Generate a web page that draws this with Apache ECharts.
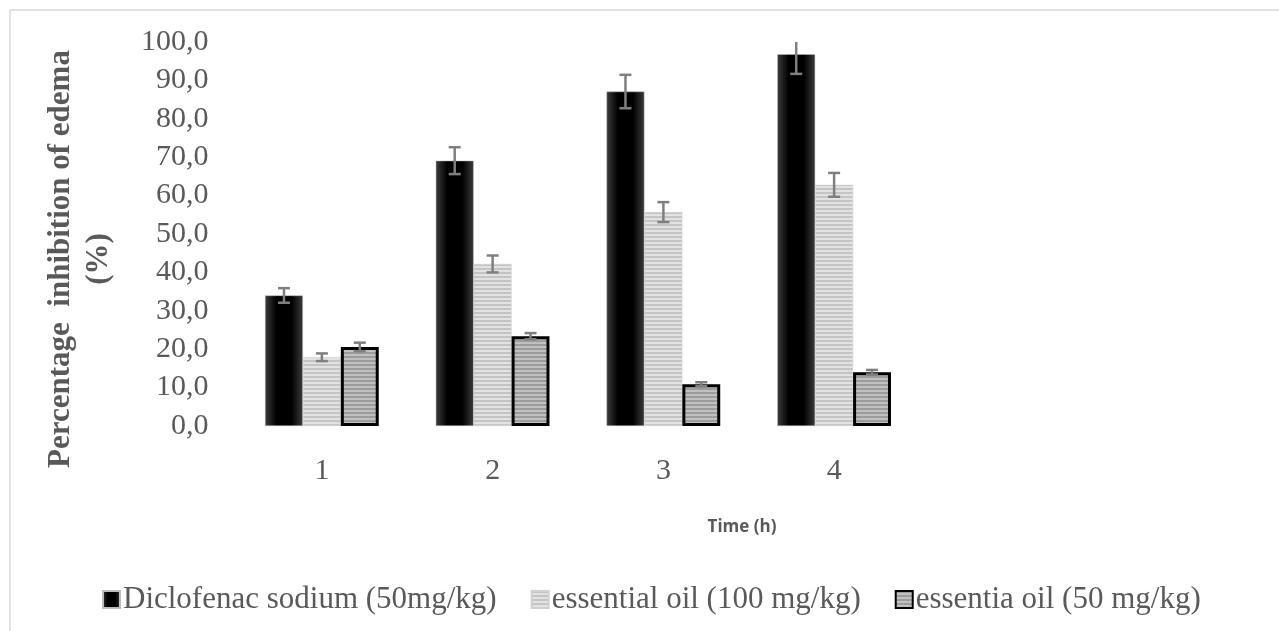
<!DOCTYPE html>
<html><head><meta charset="utf-8">
<script src="https://cdn.jsdelivr.net/npm/echarts@6/dist/echarts.min.js"></script>
<style>html,body{margin:0;padding:0;background:#fff}#c{width:1279px;height:631px}</style>
</head><body><div id="c"></div>
<script>
const categories = ['1', '2', '3', '4'];
const seriesNames = ['Diclofenac sodium (50mg/kg)', 'essential oil (100 mg/kg)', 'essentia oil (50 mg/kg)'];
const diclofenac = [34.0, 69.1, 87.1, 96.8];
const oil100 = [17.9, 42.2, 55.7, 62.8];
const oil50 = [20.6, 23.4, 10.9, 14.0];
const diclofenacErr = [1.9, 3.5, 4.35, 5.1];
const oil100Err = [1.0, 2.2, 2.6, 3.1];
const oil50Err = [1.1, 0.8, 0.5, 0.6];
const yMin = 0, yMax = 100, yStep = 10;
const yTitle = 'Percentage  inhibition of edema\n(%)';
const xTitle = 'Time (h)';

const SERIF = 'Liberation Serif';
const GAP = 0.334;

function stripes(c1, c2) {
  const cv = document.createElement('canvas');
  cv.width = 4; cv.height = 4;
  const ctx = cv.getContext('2d');
  ctx.fillStyle = c1; ctx.fillRect(0, 0, 4, 2);
  ctx.fillStyle = c2; ctx.fillRect(0, 2, 4, 2);
  return cv;
}
const blackFill = {type: 'linear', x: 0, y: 0, x2: 1, y2: 0, colorStops: [
  {offset: 0, color: '#3c3c3c'}, {offset: 0.3, color: '#000'}, {offset: 0.7, color: '#000'}, {offset: 1, color: '#3c3c3c'}]};
const lightFill = {image: stripes('#c4c4c4', '#e2e2e2'), repeat: 'repeat'};
const midFill = {image: stripes('#9c9c9c', '#c0c0c0'), repeat: 'repeat'};

function errData(vals, errs) {
  return vals.map((v, i) => [i, v - errs[i], v + errs[i]]);
}
function errRender(sIdx) {
  return function (params, api) {
    const cat = api.value(0), lo = api.value(1), hi = api.value(2);
    const catW = api.size([1, 0])[0];
    const bw = catW * (1 - GAP) / 3;
    const cx = api.coord([cat, 0])[0] + (sIdx - 1) * bw;
    const yTop = api.coord([cat, Math.min(hi, yMax)])[1];
    const yBot = api.coord([cat, lo])[1];
    const st = {stroke: '#7f7f7f', lineWidth: 2.5};
    const ch = [
      {type: 'line', shape: {x1: cx, y1: yTop, x2: cx, y2: yBot}, style: st},
      {type: 'line', shape: {x1: cx - 6, y1: yBot, x2: cx + 6, y2: yBot}, style: st}
    ];
    if (hi <= yMax) ch.push({type: 'line', shape: {x1: cx - 6, y1: yTop, x2: cx + 6, y2: yTop}, style: st});
    return {type: 'group', children: ch};
  };
}

const chart = echarts.init(document.getElementById('c'), null, {renderer: 'canvas'});
chart.setOption({
  animation: false,
  backgroundColor: '#fff',
  grid: {left: 236.5, top: 42, width: 683, bottom: 205},
  xAxis: {
    type: 'category', data: categories,
    axisLine: {show: false}, axisTick: {show: false},
    axisLabel: {fontFamily: SERIF, fontSize: 30, color: '#595959', margin: 30}
  },
  yAxis: {
    type: 'value', min: yMin, max: yMax, interval: yStep,
    axisLine: {show: false}, axisTick: {show: false}, splitLine: {show: false},
    axisLabel: {fontFamily: SERIF, fontSize: 30, color: '#595959', margin: 28,
      formatter: v => v.toFixed(1).replace('.', ',')}
  },
  legend: {
    data: seriesNames, left: 97, top: 579, itemWidth: 17, itemHeight: 17, itemGap: 34,
    icon: 'rect',
    textStyle: {fontFamily: SERIF, fontSize: 31, color: '#595959', padding: [0, 0, 0, -2]}
  },
  graphic: [
    {type: 'rect', silent: true, z: -10, shape: {x: 10, y: 10, width: 1400, height: 1000},
      style: {fill: 'none', stroke: '#d9d9d9', lineWidth: 1.5}},
    {type: 'text', x: 80, y: 259, rotation: Math.PI / 2,
      style: {text: yTitle, font: 'bold 31px "Liberation Serif"', fill: '#595959',
        textAlign: 'center', textVerticalAlign: 'middle', lineHeight: 38}},
    {type: 'text', x: 742, y: 527,
      style: {text: xTitle, font: 'bold 17px "Open Sans"', fill: '#595959',
        textAlign: 'center', textVerticalAlign: 'middle'}}
  ],
  series: [
    {name: seriesNames[0], type: 'bar', data: diclofenac, barGap: '0%', barCategoryGap: (GAP * 100) + '%',
      itemStyle: {color: blackFill, borderColor: '#bdbdbd', borderWidth: 0.5}},
    {name: seriesNames[1], type: 'bar', data: oil100,
      itemStyle: {color: lightFill, borderColor: '#d0d0d0', borderWidth: 0.5}},
    {name: seriesNames[2], type: 'bar', data: oil50,
      itemStyle: {color: midFill, borderColor: '#000', borderWidth: 3}},
    {name: 'err0', type: 'custom', renderItem: errRender(0), data: errData(diclofenac, diclofenacErr), encode: {x: 0, y: [1, 2]}, z: 5},
    {name: 'err1', type: 'custom', renderItem: errRender(1), data: errData(oil100, oil100Err), encode: {x: 0, y: [1, 2]}, z: 5},
    {name: 'err2', type: 'custom', renderItem: errRender(2), data: errData(oil50, oil50Err), encode: {x: 0, y: [1, 2]}, z: 5}
  ]
});
</script></body></html>
